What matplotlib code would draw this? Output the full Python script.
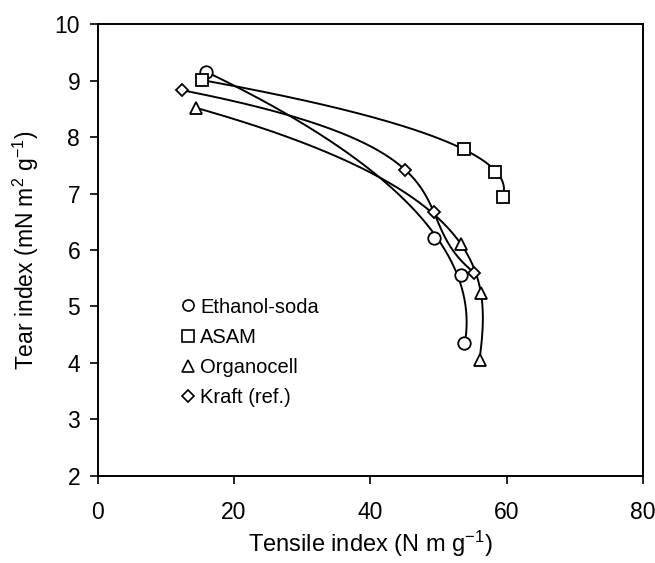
import numpy as np
import matplotlib
matplotlib.use("Agg")
import matplotlib.pyplot as plt
from matplotlib.lines import Line2D

plt.rcParams['font.family'] = ['Liberation Sans', 'DejaVu Sans']
plt.rcParams['mathtext.fontset'] = 'custom'
plt.rcParams['mathtext.rm'] = 'Liberation Sans'
plt.rcParams['mathtext.it'] = 'Liberation Sans'

# data
series_names = ['Ethanol-soda', 'ASAM', 'Organocell', 'Kraft (ref.)']
series_markers = ['o', 's', '^', 'D']

eth_tensile = [15.9, 49.3, 53.3, 53.7]
eth_tear = [9.16, 6.22, 5.56, 4.35]

asam_tensile = [15.3, 53.7, 58.3, 59.4]
asam_tear = [9.01, 7.79, 7.38, 6.93]

org_tensile = [14.4, 53.3, 56.2, 56.0]
org_tear = [8.52, 6.10, 5.24, 4.05]

kraft_tensile = [12.4, 45.1, 49.3, 55.2]
kraft_tear = [8.83, 7.42, 6.67, 5.60]

all_x = [eth_tensile, asam_tensile, org_tensile, kraft_tensile]
all_y = [eth_tear, asam_tear, org_tear, kraft_tear]
# polynomial order of the trend curve (tensile as a function of tear)
fit_degree = [2, 2, 3, 3]
marker_sizes = {'o': 9, 's': 8.5, '^': 9, 'D': 6.5}

fig = plt.figure(figsize=(6.55, 5.63), dpi=100)
ax = fig.add_axes([0.149, 0.155, 0.833, 0.802])

for xs, ys, m, deg in zip(all_x, all_y, series_markers, fit_degree):
    coef = np.polyfit(ys, xs, deg)
    yy = np.linspace(min(ys), max(ys), 200)
    ax.plot(np.polyval(coef, yy), yy, color='black', lw=1.4, zorder=2)
    ax.plot(xs, ys, linestyle='none', marker=m, ms=marker_sizes[m],
            mfc='white', mec='black', mew=1.3, zorder=3)

ax.set_xlim(0, 80)
ax.set_ylim(2, 10)
ax.set_xticks([0, 20, 40, 60, 80])
ax.set_yticks(range(2, 11))
ax.tick_params(direction='out', length=5.5, width=1.2, labelsize=16.5)
ax.tick_params(axis='x', pad=13)
ax.tick_params(axis='y', pad=7)
for s in ax.spines.values():
    s.set_linewidth(1.4)

ax.set_xlabel('Tensile index (N m g$^{-1}$)', fontsize=17, labelpad=3)
ax.set_ylabel('Tear index (mN m$^{2}$ g$^{-1}$)', fontsize=16.5, labelpad=10)

handles = [Line2D([], [], linestyle='none', marker=m, ms=(6 if m == 'D' else 8),
                  mfc='white', mec='black', mew=1.2) for m in series_markers]
ax.legend(handles, series_names, loc='upper left', bbox_to_anchor=(0.136, 0.417),
          frameon=False, fontsize=14.5, handlelength=0.6, handletextpad=0.3,
          labelspacing=0.55, borderpad=0)

fig.savefig('out.png', dpi=100, facecolor='white')
